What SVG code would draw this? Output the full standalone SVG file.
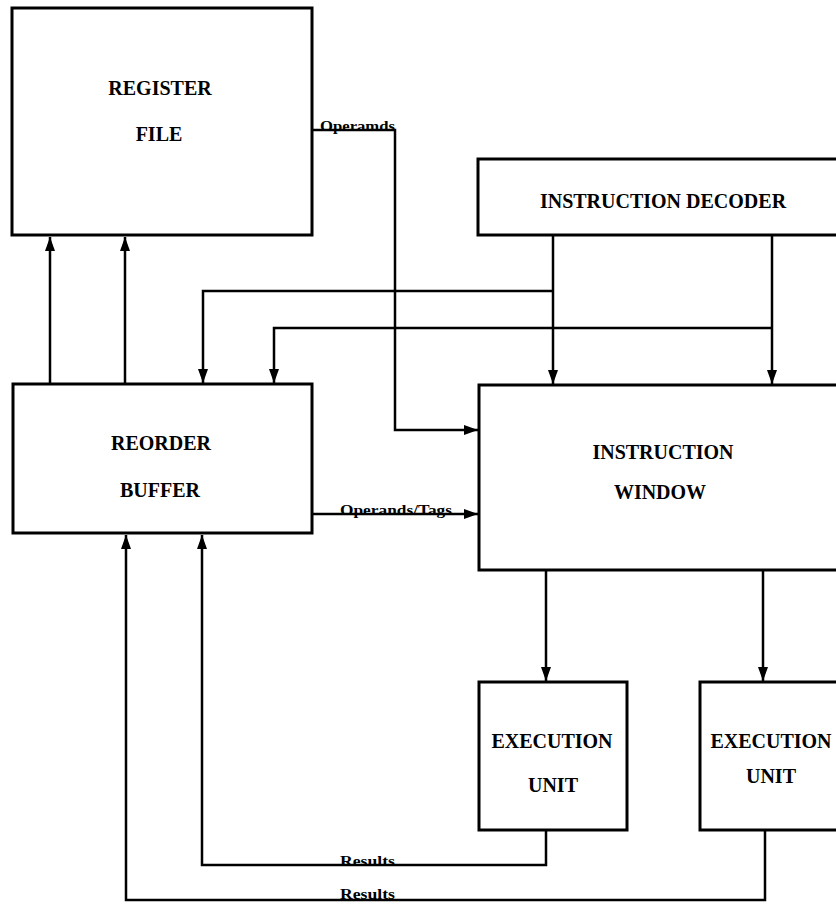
<svg xmlns="http://www.w3.org/2000/svg" width="836" height="904" viewBox="0 0 836 904">
<style>
.box{fill:#fff;stroke:#000;stroke-width:3}
.t{font-family:"Liberation Serif","Times New Roman",serif;font-size:20px;font-weight:bold;text-anchor:middle;fill:#000}
.l{font-family:"Liberation Serif","Times New Roman",serif;font-size:15px;font-weight:bold;fill:#000}
.c{fill:none;stroke:#000;stroke-width:2.5}
</style>
<defs>
<marker id="ah" markerUnits="userSpaceOnUse" markerWidth="16" markerHeight="12" refX="14" refY="5" orient="auto" viewBox="0 0 16 10">
<path d="M0,0 L14,5 L0,10 Z" fill="#000"/>
</marker>
</defs>
<rect width="836" height="904" fill="#fff"/>
<g id="connectors">
<path class="c" d="M50,384 V237" marker-end="url(#ah)"/>
<path class="c" d="M125,384 V237" marker-end="url(#ah)"/>
<path class="c" d="M312,130 H395 V430 H478" marker-end="url(#ah)"/>
<path class="c" d="M553,235 V384" marker-end="url(#ah)"/>
<path class="c" d="M553,291 H203 V383" marker-end="url(#ah)"/>
<path class="c" d="M772,235 V384" marker-end="url(#ah)"/>
<path class="c" d="M772,328 H274 V383" marker-end="url(#ah)"/>
<path class="c" d="M312,514 H478" marker-end="url(#ah)"/>
<path class="c" d="M546,570 V681" marker-end="url(#ah)"/>
<path class="c" d="M763,570 V681" marker-end="url(#ah)"/>
<path class="c" d="M546,830 V865 H202 V535" marker-end="url(#ah)"/>
<path class="c" d="M765,830 V900 H126 V535" marker-end="url(#ah)"/>
<text class="l" x="320" y="131" textLength="75" lengthAdjust="spacingAndGlyphs">Operamds</text>
<text class="l" x="340" y="515" textLength="112" lengthAdjust="spacingAndGlyphs">Operands/Tags</text>
<text class="l" x="340" y="866" textLength="55" lengthAdjust="spacingAndGlyphs">Results</text>
<text class="l" x="340" y="899" textLength="55" lengthAdjust="spacingAndGlyphs">Results</text>
</g>
<g id="register-file">
<rect class="box" x="12" y="8" width="300" height="227"/>
<text class="t" x="160" y="95">REGISTER</text>
<text class="t" x="159" y="141">FILE</text>
</g>
<g id="instruction-decoder">
<rect class="box" x="478" y="159" width="372" height="76"/>
<text class="t" x="663" y="208">INSTRUCTION DECODER</text>
</g>
<g id="reorder-buffer">
<rect class="box" x="13" y="384" width="299" height="149"/>
<text class="t" x="161" y="450">REORDER</text>
<text class="t" x="160" y="497">BUFFER</text>
</g>
<g id="instruction-window">
<rect class="box" x="479" y="385" width="372" height="185"/>
<text class="t" x="663" y="459">INSTRUCTION</text>
<text class="t" x="660" y="499">WINDOW</text>
</g>
<g id="execution-unit-1">
<rect class="box" x="479" y="682" width="148" height="148"/>
<text class="t" x="552" y="748">EXECUTION</text>
<text class="t" x="553" y="792">UNIT</text>
</g>
<g id="execution-unit-2">
<rect class="box" x="700" y="682" width="150" height="148"/>
<text class="t" x="771" y="748">EXECUTION</text>
<text class="t" x="771" y="783">UNIT</text>
</g>
</svg>
